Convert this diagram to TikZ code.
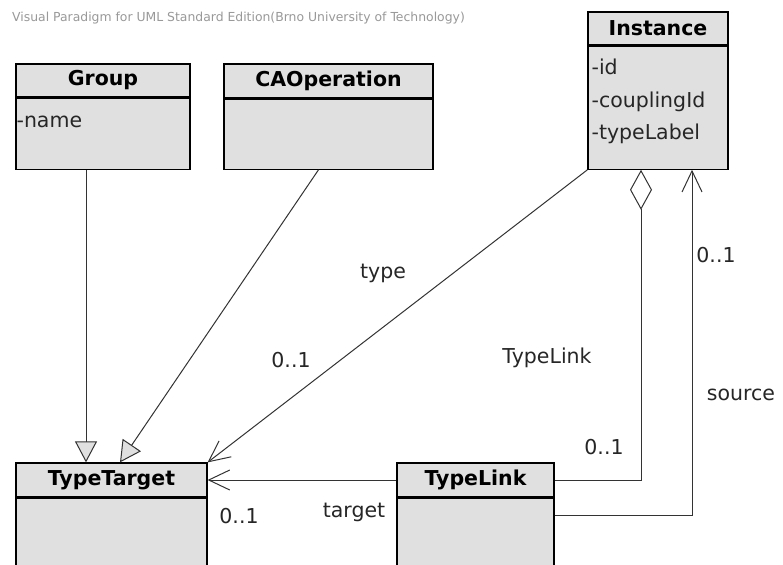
\documentclass[tikz,border=0pt]{standalone}
\usepackage{fontspec}
\usepackage{xcolor}
\usepackage{tikz}
\usetikzlibrary{arrows.meta}
\usetikzlibrary{calc}
\setmainfont{DejaVu Sans}
\definecolor{boxgray}{HTML}{E0E0E0}
\definecolor{linegray}{HTML}{333333}

\begin{document}
\begin{tikzpicture}[x=1pt, y=-1pt,
    head/.style={draw=black, fill=boxgray, line width=1.2pt, inner sep=0pt,
      font=\fontsize{20.5}{24}\selectfont\bfseries},
    body/.style={draw=black, fill=boxgray, line width=1.2pt, inner sep=0pt, anchor=north},
    attr/.style={anchor=base west, inner sep=0pt, text=black!85,
      font=\fontsize{20.5}{24}\selectfont},
    lbl/.style={inner sep=0pt, text=black!85, font=\fontsize{20.5}{24}\selectfont},
    conn/.style={draw=linegray, line width=1pt},
    gen/.style={conn, -{Triangle[length=21pt,width=22pt,fill=boxgray]}},
    assoc/.style={conn, -{Straight Barb[length=21pt,width=20pt]}},
    aggr/.style={conn, -{Diamond[length=40pt,width=22pt,fill=white]}}]
    \useasboundingbox[fill=white] (0,0) rectangle (783,564);

    % Filigrane
    \node[anchor=west, inner sep=0pt, text=black!40, font=\fontsize{12.4}{14}\selectfont]
      (wm) at (12,18) {Visual Paradigm for UML Standard Edition(Brno University of Technology)};

    % Classes
    \node[head, minimum width=174pt, minimum height=33pt] (grp) at (103,80.5) {Group};
    \node[body, minimum width=174pt, minimum height=71pt] (grpb) at (grp.south) {};
    \node[attr] (grpname) at ([xshift=1pt,yshift=-30pt]grpb.north west) {-name};

    \node[head, minimum width=209pt, minimum height=34pt] (ca) at (328.5,81) {CAOperation};
    \node[body, minimum width=209pt, minimum height=70pt] (cab) at (ca.south) {};

    \node[head, minimum width=140pt, minimum height=33pt] (inst) at (658,28.5) {Instance};
    \node[body, minimum width=140pt, minimum height=123pt] (instb) at (inst.south) {};
    \node[attr] (instid) at ([xshift=4pt,yshift=-29pt]instb.north west) {-id};
    \node[attr] (instcpl) at ([xshift=4pt,yshift=-61.5pt]instb.north west) {-couplingId};
    \node[attr] (insttl) at ([xshift=4pt,yshift=-94pt]instb.north west) {-typeLabel};

    \node[head, minimum width=191pt, minimum height=34pt] (tgt) at (111.5,480) {TypeTarget};
    \node[body, minimum width=191pt, minimum height=100pt] (tgtb) at (tgt.south) {};

    \node[head, minimum width=157pt, minimum height=34pt] (tlk) at (475.5,480) {TypeLink};
    \node[body, minimum width=157pt, minimum height=100pt] (tlkb) at (tlk.south) {};

    % Generalisations
    \coordinate (grpfoot) at ([xshift=-17pt]grpb.south);
    \draw[gen] (grpfoot) -- (grpfoot |- tgt.north);
    \coordinate (cafoot) at ([xshift=-10pt]cab.south);
    \draw[gen] (cafoot) -- ([xshift=8.5pt]tgt.north);

    % Associations
    \draw[assoc] (instb.south west) -- (tgt.north east);
    \draw[assoc] (tlk.west) -- (tgt.east);
    \coordinate (aggfoot) at ([xshift=-17pt]instb.south);
    \draw[aggr] (tlk.east) -| (aggfoot);
    \coordinate (srcstart) at ([yshift=-18pt]tlkb.north east);
    \coordinate (srcfoot) at ([xshift=34pt]instb.south);
    \draw[assoc] (srcstart) -| (srcfoot);

    % Etiquettes
    \node[lbl] (typelbl) at (383,273) {type};
    \node[lbl] (typemult) at (291,360) {0..1};
    \node[lbl] (linklbl) at (547,358) {TypeLink};
    \node[lbl] (linkmult) at (604,447.5) {0..1};
    \node[lbl] (srcmult) at (716,255.5) {0..1};
    \node[lbl] (srclbl) at (741,395) {source};
    \node[lbl] (tgtmult) at (239,516) {0..1};
    \node[lbl] (tgtlbl) at (354,512) {target};
\end{tikzpicture}
\end{document}
